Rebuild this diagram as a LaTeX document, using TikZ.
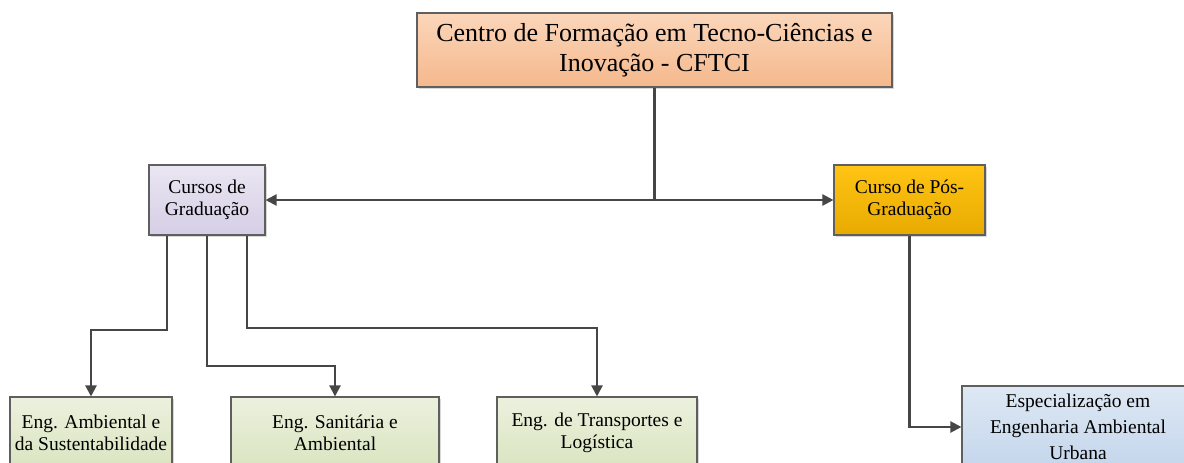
\documentclass[tikz,border=0pt]{standalone}
\usepackage{fontspec}
\setmainfont{Liberation Serif}
\usetikzlibrary{arrows.meta,shadows}
\definecolor{linec}{RGB}{70,70,70}
\definecolor{borderc}{RGB}{95,95,95}
\tikzset{
  box/.style={draw=borderc, line width=1.1pt, align=center, inner sep=2pt,
    drop shadow={shadow xshift=2pt, shadow yshift=-2pt, fill=black!30, opacity=0.5}},
  txt/.style={font=\fontsize{19.5}{22}\selectfont},
  peach/.style={top color={rgb,255:red,251;green,214;blue,186}, bottom color={rgb,255:red,245;green,184;blue,140}},
  lav/.style={top color={rgb,255:red,234;green,230;blue,242}, bottom color={rgb,255:red,214;green,206;blue,230}},
  gold/.style={top color={rgb,255:red,255;green,196;blue,20}, bottom color={rgb,255:red,232;green,170;blue,0}},
  grn/.style={top color={rgb,255:red,236;green,241;blue,222}, bottom color={rgb,255:red,218;green,228;blue,192}},
  blu/.style={top color={rgb,255:red,222;green,232;blue,244}, bottom color={rgb,255:red,196;green,214;blue,236}},
  conn/.style={draw=linec, line width=2.2pt},
  arr/.style={conn, -{Triangle[length=11pt,width=11pt]}}
}
\begin{document}
\begin{tikzpicture}[x=1pt,y=-1pt]
\useasboundingbox (0,0) rectangle (1184,463);
\clip (0,0) rectangle (1184,463);
\node[box,peach,minimum width=475pt,minimum height=74pt,font=\fontsize{26}{30}\selectfont] (top) at (654.5,50) {Centro de Formação em Tecno-Ciências e\\Inovação - CFTCI};
\node[box,lav,txt,minimum width=116pt,minimum height=70pt] (grad) at (207,200) {Cursos de\\Graduação};
\node[box,gold,txt,minimum width=151pt,minimum height=70pt] (pos) at (909.5,200) {Curso de Pós-\\Graduação};
\node[box,grn,txt,minimum width=162pt,minimum height=72pt] (b1) at (91,433) {Eng. Ambiental e\\da Sustentabilidade};
\node[box,grn,txt,minimum width=208pt,minimum height=72pt] (b2) at (335,433) {Eng. Sanitária e\\Ambiental};
\node[box,grn,txt,minimum width=200pt,minimum height=72pt] (b3) at (597,433) {Eng. de Transportes e\\Logística};
\node[box,blu,minimum width=232pt,minimum height=82pt,align=center,font=\fontsize{19.5}{26}\selectfont] (b4) at (1078,427) {Especialização em\\Engenharia Ambiental\\Urbana};
\coordinate (j) at (654.5,200);
\coordinate (k1) at (91,330);
\coordinate (k2) at (335,366);
\coordinate (k3) at (597,328);
\coordinate (k4) at (909.5,427);
\draw[conn] (top.south) -- (j);
\draw[arr] (j) -- (grad.east);
\draw[arr] (j) -- (pos.west);
\draw[arr] ([xshift=-40pt]grad.south) |- (k1) -- (b1.north);
\draw[arr] (grad.south) |- (k2) -- (b2.north);
\draw[arr] ([xshift=40pt]grad.south) |- (k3) -- (b3.north);
\draw[arr] (pos.south) -- (k4) -- (b4.west);
\end{tikzpicture}
\end{document}
